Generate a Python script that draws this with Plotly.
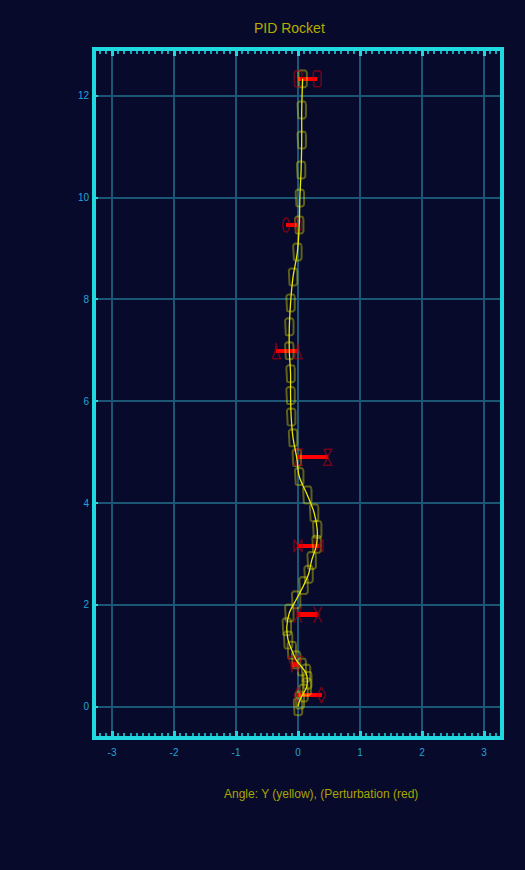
import math
import plotly.graph_objects as go

# ---------------- data ----------------
# rocket centre positions (height y, lateral x), bottom -> top
rocket_y = [0.0, 0.13, 0.27, 0.39, 0.52, 0.66, 0.78, 0.92, 1.11, 1.31, 1.57, 1.84,
            2.10, 2.38, 2.60, 2.87, 3.19, 3.48, 3.81, 4.16, 4.52, 4.89, 5.28, 5.69,
            6.11, 6.54, 6.99, 7.46, 7.93, 8.44, 8.93, 9.46, 9.99, 10.54, 11.13, 11.72, 12.33]
rocket_x = [0.0, 0.03, 0.09, 0.14, 0.15, 0.13, 0.06, -0.03, -0.10, -0.16, -0.18, -0.14,
            -0.03, 0.09, 0.17, 0.22, 0.30, 0.31, 0.26, 0.15, 0.02, -0.02, -0.08, -0.11,
            -0.12, -0.12, -0.14, -0.14, -0.12, -0.08, -0.01, 0.02, 0.03, 0.05, 0.06, 0.06, 0.075]

# perturbations (height, magnitude)
pert_y = [12.33, 9.46, 6.99, 4.90, 3.16, 1.81, 0.83, 0.23]
pert_val = [0.31, -0.19, -0.35, 0.48, 0.34, 0.32, -0.10, 0.38]

x_ticks = [-3, -2, -1, 0, 1, 2, 3]
x_tick_labels = ["-3", "-2", "-1", "0", "1", "2", "3"]
y_ticks = [0, 2, 4, 6, 8, 10, 12]
y_tick_labels = ["0", "2", "4", "6", "8", "10", "12"]

# ---------------- layout geometry / styles ----------------
W, H = 525, 870
ML, MR, MT, MB = 96, 25, 51, 134
XR = [-3.258, 3.258]
YR = [-0.575, 12.877]
PX_X = (W - ML - MR) / (XR[1] - XR[0])   # pixels per x unit
PX_Y = (H - MT - MB) / (YR[1] - YR[0])   # pixels per y unit

BG = "#070a2b"
CYAN = "#1fd8e0"
GRID = "#1c5675"
TICKLBL = "#22a4dc"
GOLD = "#b4ae00"
FONT = "Liberation Sans, Arial, sans-serif"

end_kinds = ["rect", "ellipse", "spike", "hourglass", "bowtie", "x", "vee", "diamond"]


def outline(kind, hw=4.0, hh=8.0):
    """pixel-space outline(s) of a marker shape, y pointing up."""
    pts = []
    if kind == "rect":
        r = 2.5
        corners = [(hw - r, hh - r, 0), (-hw + r, hh - r, 90), (-hw + r, -hh + r, 180), (hw - r, -hh + r, 270)]
        for cx, cy, a0 in corners:
            for k in range(5):
                a = math.radians(a0 + k * 22.5)
                pts.append((cx + r * math.cos(a), cy + r * math.sin(a)))
        pts.append(pts[0])
        return [pts]
    if kind == "ellipse":
        for k in range(33):
            a = 2 * math.pi * k / 32
            pts.append((hw * 0.85 * math.cos(a), hh * 0.9 * math.sin(a)))
        return [pts]
    if kind == "spike":
        return [[(-hw, -hh), (-1, 0), (0, hh), (1, 0), (hw, -hh), (-hw, -hh)]]
    if kind == "vee":
        return [[(-hw, hh), (-1, 0), (0, -hh), (1, 0), (hw, hh), (-hw, hh)]]
    if kind == "hourglass":
        return [[(-hw, hh), (hw, hh), (-hw, -hh), (hw, -hh), (-hw, hh)]]
    if kind == "bowtie":
        return [[(-hw, hh * 0.8), (hw, -hh * 0.8), (hw, hh * 0.8), (-hw, -hh * 0.8), (-hw, hh * 0.8)]]
    if kind == "x":
        return [[(-hw, hh), (hw, -hh)], [(hw, hh), (-hw, -hh)],
                [(-hw * 0.6, 0), (hw * 0.6, 0)]]
    if kind == "diamond":
        return [[(0, hh), (hw, 0), (0, -hh), (-hw, 0), (0, hh)]]
    return []


def place(kind, x0, y0, xs, ys, hw=4.0, hh=8.0):
    for path in outline(kind, hw, hh):
        for px, py in path:
            xs.append(x0 + px / PX_X)
            ys.append(y0 + py / PX_Y)
        xs.append(None)
        ys.append(None)


fig = go.Figure()

# rocket body outlines
rx, ry = [], []
for x0, y0 in zip(rocket_x, rocket_y):
    place("rect", x0, y0, rx, ry, 4.2, 8.5)
fig.add_trace(go.Scatter(x=rx, y=ry, mode="lines", hoverinfo="skip",
                         line=dict(color="rgba(235,235,0,0.38)", width=2)))

# perturbation end markers
ex, ey = [], []
for v, y0, kind in zip(pert_val, pert_y, end_kinds):
    place(kind, 0.0, y0, ex, ey)
    place(kind, v, y0, ex, ey)
fig.add_trace(go.Scatter(x=ex, y=ey, mode="lines", hoverinfo="skip",
                         line=dict(color="rgba(180,0,20,0.6)", width=1.5)))

# trajectory
fig.add_trace(go.Scatter(x=rocket_x, y=rocket_y, mode="lines",
                         line=dict(color="#e8e800", width=1.3, shape="spline", smoothing=1.0)))

# perturbation bars
fig.add_trace(go.Bar(x=pert_val, y=pert_y, base=0, orientation="h",
                     width=4.4 / PX_Y, marker=dict(color="#ff0000", line=dict(width=0))))

axis_common = dict(
    showline=True, linecolor=CYAN, linewidth=4,
    showgrid=True, gridcolor=GRID, gridwidth=2, zeroline=False,
    ticks="inside", tickcolor=CYAN,
    tickfont=dict(family=FONT, size=10, color=TICKLBL),
)

fig.update_layout(
    width=W, height=H,
    margin=dict(l=ML, r=MR, t=MT, b=MB),
    paper_bgcolor=BG, plot_bgcolor=BG,
    showlegend=False, bargap=0, barmode="overlay",
    xaxis=dict(range=XR, tickvals=x_ticks, ticktext=x_tick_labels, ticklen=5, tickwidth=3,
               mirror="allticks", ticklabelstandoff=4,
               minor=dict(dtick=0.1, tick0=0, ticks="inside", ticklen=3, tickwidth=2,
                          tickcolor="#16a8b8", showgrid=False),
               **axis_common),
    yaxis=dict(range=YR, tickvals=y_ticks, ticktext=y_tick_labels, ticklen=2, tickwidth=2,
               mirror=True, ticklabelstandoff=1, **axis_common),
    annotations=[
        dict(text="PID Rocket", xref="paper", yref="paper", x=0.48, y=1.0336,
             xanchor="center", yanchor="middle", showarrow=False,
             font=dict(family=FONT, size=14, color=GOLD)),
        dict(text="Angle: Y (yellow), (Perturbation (red)", xref="paper", yref="paper",
             x=0.558, y=-0.0847, xanchor="center", yanchor="middle", showarrow=False,
             font=dict(family=FONT, size=12, color="#a8a400")),
    ],
)

fig.write_html("out.html")
